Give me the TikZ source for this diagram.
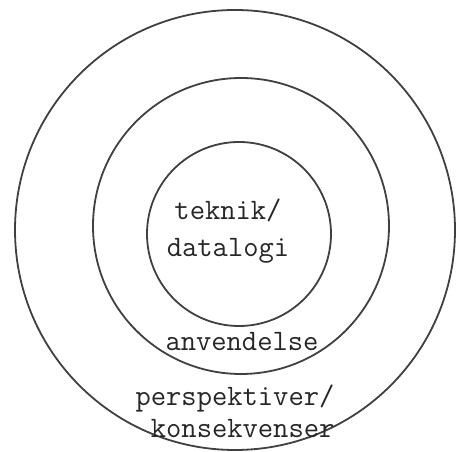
\documentclass[tikz,border=0pt]{standalone}
\usepackage{fontspec}
\usetikzlibrary{positioning}

\begin{document}
\begin{tikzpicture}[
    x=1pt, y=1pt,
    ring/.style={draw=black!75, circle, line width=1.8pt, inner sep=0pt},
    tag/.style={font=\ttfamily\fontsize{29.7}{37}\selectfont, text=black!85, inner sep=0pt}
]
    \useasboundingbox (0,0) rectangle (456,452);

    % Rings
    \node (outer) [ring, minimum size=440pt] at (235,222) {};
    \node (middle) [ring, minimum size=296pt] at (241,226) {};
    \node (core) [ring, minimum size=184pt] at (239,218) {};

    % Texts
    \node (tech) [tag, align=center] at (228,221) {teknik/\\datalogi};
    \node (use) [tag] at (242,110) {anvendelse};
    \node (persp) [tag, align=left, font=\ttfamily\fontsize{29.7}{32}\selectfont] at (235,41) {perspektiver/\\~konsekvenser};
\end{tikzpicture}
\end{document}
